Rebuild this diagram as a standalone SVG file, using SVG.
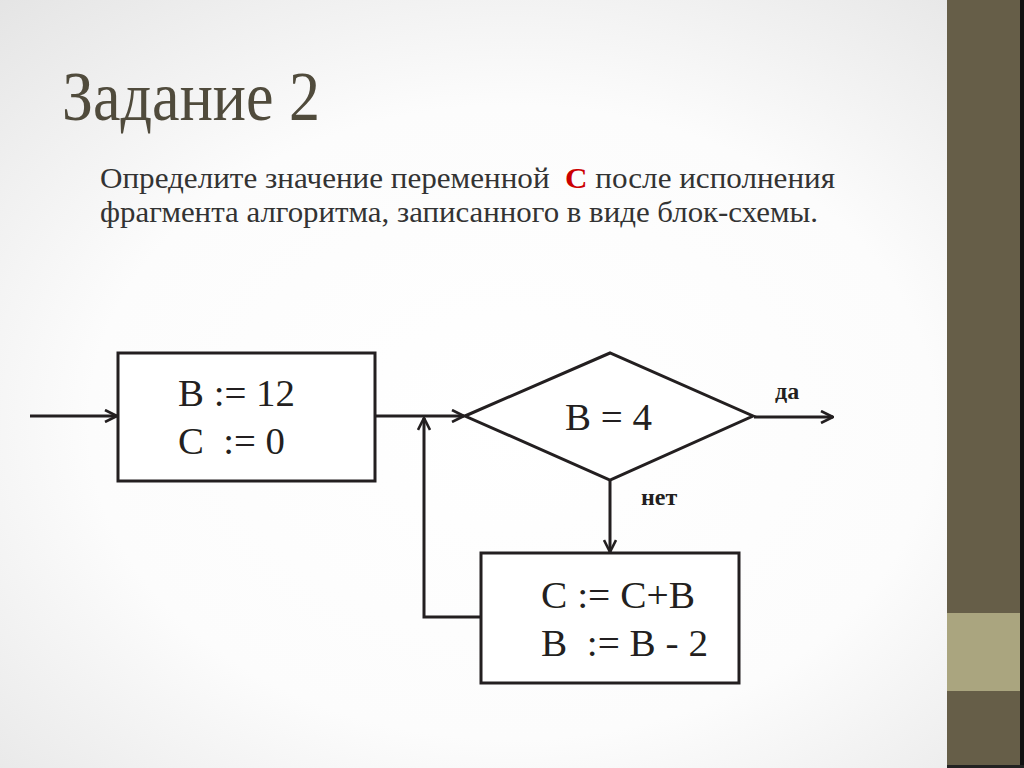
<svg xmlns="http://www.w3.org/2000/svg" width="1024" height="768" viewBox="0 0 1024 768">
<defs>
<radialGradient id="bg" cx="0.5" cy="0.55" r="0.75">
<stop offset="0" stop-color="#ffffff"/>
<stop offset="0.55" stop-color="#fcfcfc"/>
<stop offset="1" stop-color="#e4e4e4"/>
</radialGradient>
<marker id="arr" viewBox="0 0 14 14" refX="13" refY="7" markerWidth="14" markerHeight="14" markerUnits="userSpaceOnUse" orient="auto">
<path d="M1,1 L13,7 L1,13" fill="none" stroke="#231f20" stroke-width="2.6"/>
</marker>
<style>
.ln{fill:none;stroke:#231f20;stroke-width:3;}
.shape{fill:#ffffff;stroke:#231f20;stroke-width:3;}
.f{font-family:"Liberation Serif","Times New Roman",serif;fill:#231f20;font-size:38px;white-space:pre;}
.lbl{font-family:"Liberation Serif","Times New Roman",serif;fill:#231f20;font-size:24px;font-weight:bold;}
.body{font-family:"Liberation Serif","Times New Roman",serif;fill:#333333;font-size:30px;white-space:pre;}
</style>
</defs>
<rect x="0" y="0" width="1024" height="768" fill="url(#bg)"/>
<rect x="947" y="0" width="74" height="768" fill="#665e48"/>
<rect x="947" y="613" width="74" height="78" fill="#aaa57f"/>
<rect x="1020" y="0" width="4" height="768" fill="#111111"/>
<rect x="947" y="765" width="77" height="3" fill="#222222"/>

<text x="62" y="120" font-family="Liberation Serif, Times New Roman, serif" font-size="69" fill="#504b3c" textLength="258" lengthAdjust="spacingAndGlyphs">Задание 2</text>
<text class="body" x="100" y="188" textLength="735" lengthAdjust="spacingAndGlyphs">Определите значение переменной  <tspan fill="#cc0000" font-weight="bold">С</tspan> после исполнения</text>
<text class="body" x="100" y="222" textLength="718" lengthAdjust="spacingAndGlyphs">фрагмента алгоритма, записанного в виде блок-схемы.</text>

<g id="connectors">
<line class="ln" x1="30" y1="416" x2="117" y2="416" marker-end="url(#arr)"/>
<line class="ln" x1="376" y1="416" x2="464" y2="416" marker-end="url(#arr)"/>
<line class="ln" x1="754" y1="417" x2="833" y2="417" marker-end="url(#arr)"/>
<line class="ln" x1="610" y1="481" x2="610" y2="552" marker-end="url(#arr)"/>
<polyline class="ln" points="480,617 424,617 424,418" marker-end="url(#arr)"/>
</g>

<g id="init">
<rect class="shape" x="118" y="353" width="257" height="128"/>
<text class="f" x="178" y="406" textLength="117" lengthAdjust="spacingAndGlyphs">B := 12</text>
<text class="f" x="178" y="454" textLength="107" lengthAdjust="spacingAndGlyphs">C  := 0</text>
</g>

<g id="cond">
<polygon class="shape" points="465,416 610,353 753,416 610,480"/>
<text class="f" x="565" y="430" textLength="87" lengthAdjust="spacingAndGlyphs">B = 4</text>
</g>

<g id="labels">
<text class="lbl" x="775" y="399">да</text>
<text class="lbl" x="641" y="505">нет</text>
</g>

<g id="body">
<rect class="shape" x="481" y="553" width="258" height="130"/>
<text class="f" x="541" y="608" textLength="154" lengthAdjust="spacingAndGlyphs">C := C+B</text>
<text class="f" x="541" y="656" textLength="167" lengthAdjust="spacingAndGlyphs">B  := B - 2</text>
</g>
</svg>
